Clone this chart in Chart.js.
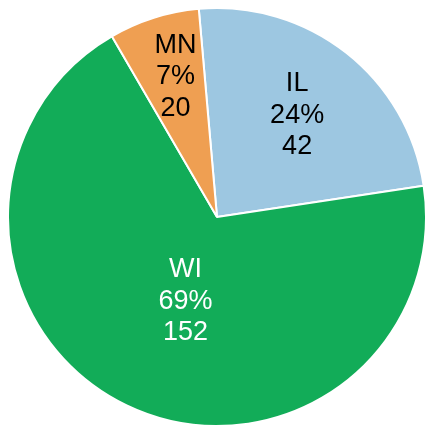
<!DOCTYPE html>
<html>
<head>
<meta charset="utf-8">
<script src="https://cdn.jsdelivr.net/npm/chart.js@4"></script>
<style>
  html, body { margin: 0; padding: 0; background: #fff; }
</style>
</head>
<body>
<canvas id="pieChart" width="427" height="427"></canvas>
<script>
// slice data (clockwise from just left of 12 o'clock)
var states = ['IL', 'WI', 'MN'];
var shares = [24, 69, 7];      // percent of pie
var counts = [42, 152, 20];    // counts shown under the percent

var sliceColors = ['#9DC7E1', '#12AC58', '#EF9F52'];
var textColors = ['#000000', '#ffffff', '#000000'];

// draws the three-line labels inside each slice
var sliceLabels = {
    id: 'sliceLabels',
    afterDatasetsDraw: function (chart, args, opts) {
        var ctx = chart.ctx;
        var meta = chart.getDatasetMeta(0);
        ctx.save();
        ctx.font = '27px "Liberation Sans", Arial, sans-serif';
        ctx.textAlign = 'center';
        ctx.textBaseline = 'middle';
        meta.data.forEach(function (arc, i) {
            var p = arc.getProps(['x', 'y', 'startAngle', 'endAngle', 'outerRadius'], true);
            var mid = (p.startAngle + p.endAngle) / 2 + (opts.angleShift[i] || 0);
            var r = p.outerRadius * opts.radius[i];
            var cx = p.x + Math.cos(mid) * r;
            var cy = p.y + Math.sin(mid) * r;
            var lines = [states[i], shares[i] + '%', String(counts[i])];
            ctx.fillStyle = textColors[i];
            lines.forEach(function (t, k) {
                ctx.fillText(t, cx, cy + (k - 1) * 31.5);
            });
        });
        ctx.restore();
    }
};

var ctx1 = document.getElementById('pieChart').getContext('2d');
var myPie = new Chart(ctx1, {
    type: 'pie',
    data: {
        labels: states,
        datasets: [{
            data: shares,
            backgroundColor: sliceColors,
            borderColor: '#ffffff',
            borderWidth: 2,
        }]
    },
    options: {
        responsive: false,
        animation: false,
        rotation: -5,
        layout: { padding: { left: 7, top: 7, right: 0, bottom: 0 } },
        plugins: {
            legend: { display: false },
            tooltip: { enabled: false },
            sliceLabels: {
                radius: [0.62, 0.43, 0.70],
                angleShift: [0, -0.09, 0.02],
            },
        },
    },
    plugins: [sliceLabels],
});
</script>
</body>
</html>
